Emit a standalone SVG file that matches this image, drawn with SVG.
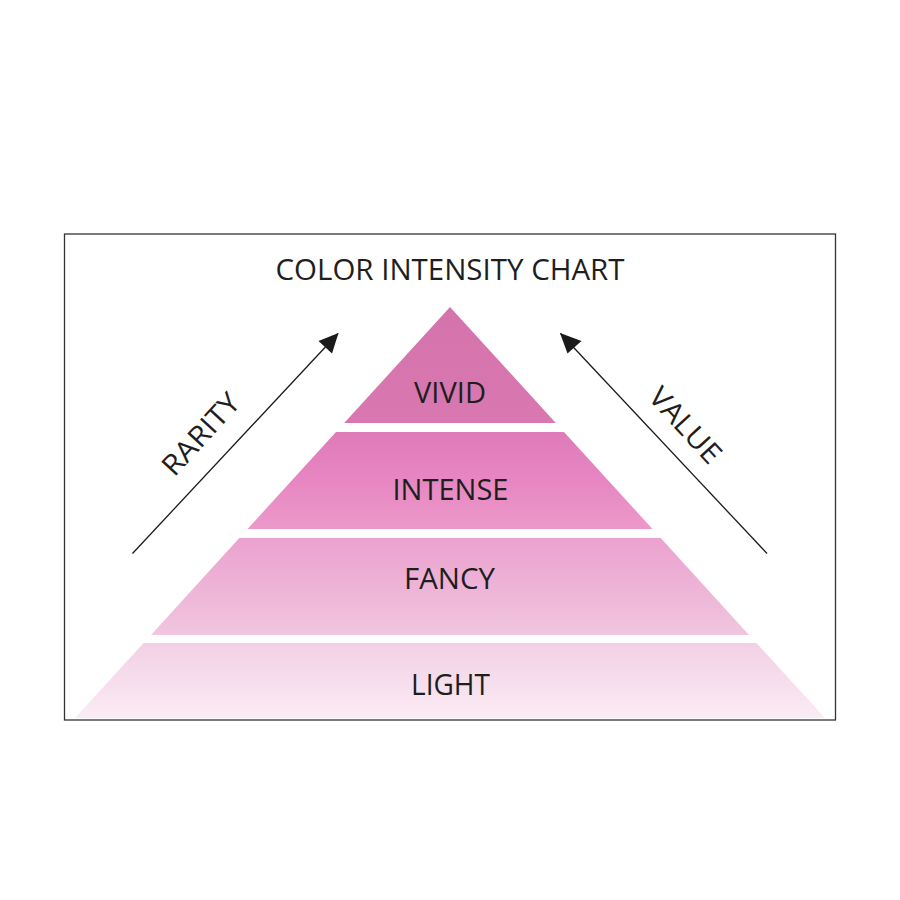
<svg xmlns="http://www.w3.org/2000/svg" width="900" height="900" viewBox="0 0 900 900">
  <defs>
    <linearGradient id="pink" gradientUnits="userSpaceOnUse" x1="0" y1="307" x2="0" y2="718">
      <stop offset="0" stop-color="#d574ac"/>
      <stop offset="0.28" stop-color="#d877b0"/>
      <stop offset="0.30" stop-color="#de7ab8"/>
      <stop offset="0.42" stop-color="#e786c2"/>
      <stop offset="0.54" stop-color="#ec99ca"/>
      <stop offset="0.56" stop-color="#eba1cf"/>
      <stop offset="0.79" stop-color="#f0c4de"/>
      <stop offset="0.81" stop-color="#f2cfe4"/>
      <stop offset="1" stop-color="#faebf4"/>
    </linearGradient>
    <style>
      .tier { fill: url(#pink); }
      .lbl { font-family: "Open Sans", Lato, "Liberation Sans", sans-serif; font-size: 28.5px; font-weight: 500; fill: #1e1e1e; text-anchor: middle; }
      .conn { stroke: #1a1a1a; stroke-width: 1.3; fill: none; }
    </style>
  </defs>
  <rect x="0" y="0" width="900" height="900" fill="#ffffff"/>
  <rect id="frame" x="64.5" y="234" width="771" height="486" fill="none" stroke="#333333" stroke-width="1.3"/>
  <g id="title">
    <text class="lbl" x="450" y="280" textLength="349" lengthAdjust="spacingAndGlyphs">COLOR INTENSITY CHART</text>
  </g>
  <g id="tier-vivid">
    <polygon class="tier" points="450,307 555.8,423 344.2,423"/>
    <text class="lbl" x="450" y="403" textLength="72" lengthAdjust="spacingAndGlyphs">VIVID</text>
  </g>
  <g id="tier-intense">
    <polygon class="tier" points="336,432 564,432 652.5,529 247.5,529"/>
    <text class="lbl" x="450.5" y="500" textLength="116" lengthAdjust="spacingAndGlyphs">INTENSE</text>
  </g>
  <g id="tier-fancy">
    <polygon class="tier" points="239.3,538 660.7,538 749,635 151,635"/>
    <text class="lbl" x="449.5" y="589" textLength="91" lengthAdjust="spacingAndGlyphs">FANCY</text>
  </g>
  <g id="tier-light">
    <polygon class="tier" points="143.6,643 756.4,643 825,718 75,718"/>
    <text class="lbl" x="450.5" y="695" textLength="79" lengthAdjust="spacingAndGlyphs">LIGHT</text>
  </g>
  <g id="connectors">
    <line class="conn" x1="132.5" y1="553.5" x2="338" y2="333.5"/>
    <path d="M338.5,333 L332,353.5 L318.5,341 Z" fill="#1a1a1a"/>
    <line class="conn" x1="767" y1="553.5" x2="560.5" y2="333.5"/>
    <path d="M560,333 L581.5,341 L567.5,353.5 Z" fill="#1a1a1a"/>
  </g>
  <g id="label-rarity">
    <text class="lbl" transform="translate(208,441) rotate(-47.5)" x="0" y="0" textLength="100" lengthAdjust="spacingAndGlyphs">RARITY</text>
  </g>
  <g id="label-value">
    <text class="lbl" transform="translate(678,432) rotate(47.5)" x="0" y="0" textLength="92" lengthAdjust="spacingAndGlyphs">VALUE</text>
  </g>
</svg>
